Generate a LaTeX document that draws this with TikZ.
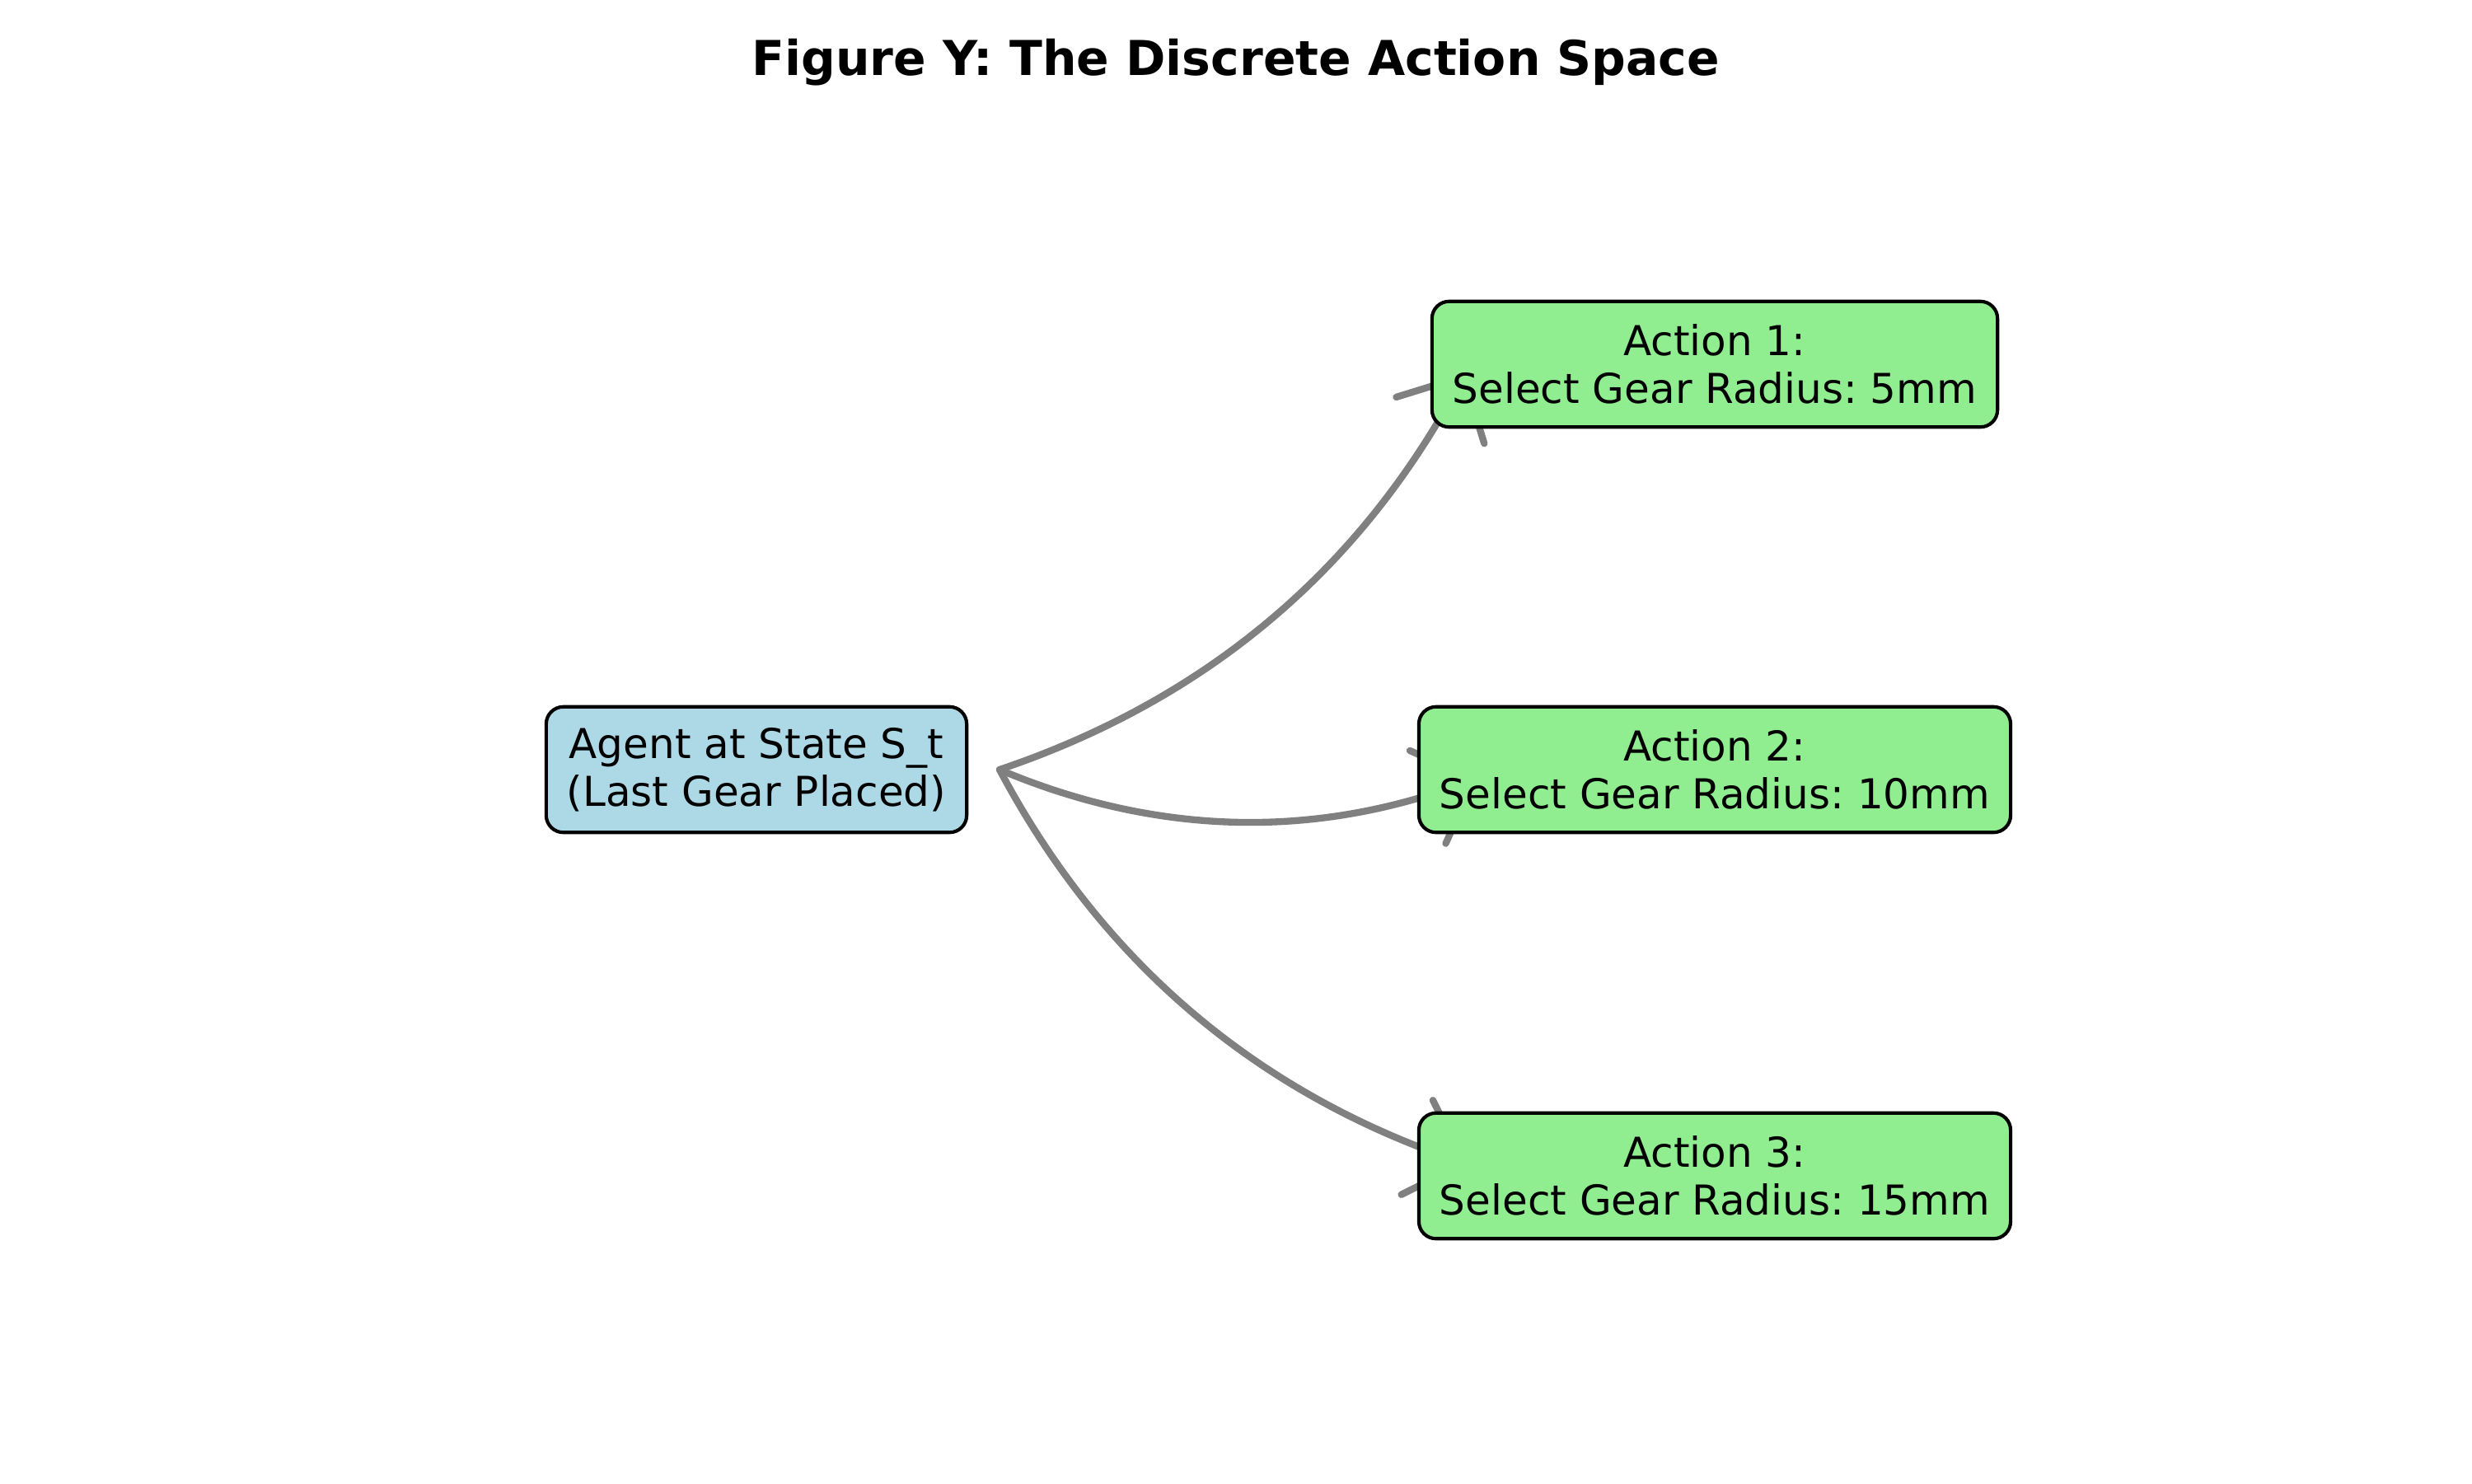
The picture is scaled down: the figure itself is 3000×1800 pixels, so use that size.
\documentclass[tikz,border=0pt]{standalone}
\usepackage{fontspec}
\setmainfont{DejaVu Sans}
\usetikzlibrary{arrows.meta}
\definecolor{boxblue}{HTML}{ADD8E6}
\definecolor{boxgreen}{HTML}{90EE90}
\definecolor{edgegray}{HTML}{808080}
\pgfdeclarelayer{background}
\pgfsetlayers{background,main}
\frenchspacing
\begin{document}
\begin{tikzpicture}[x=0.24pt,y=-0.24pt,
  box/.style={draw=black, line width=1pt, rounded corners=5pt, align=center,
    font=\fontsize{12}{14}\selectfont, inner xsep=6pt, inner ysep=6pt, minimum height=36.6pt},
  agentbox/.style={box, fill=boxblue},
  actionbox/.style={box, fill=boxgreen},
  flow/.style={draw=edgegray, line width=2pt, line cap=round,
    -{Straight Barb[length=14.5pt,width=29pt,round]}},
  titletext/.style={font=\fontsize{14}{17}\selectfont\bfseries, anchor=base, inner sep=0pt}
]
\useasboundingbox (0,0) rectangle (3000,1800);
\node[titletext] (title) at (1500,91) {Figure Y: The Discrete Action Space};
\node[agentbox] (agent) at (918,934) {Agent at State S\_t\\(Last Gear Placed)};
\node[actionbox] (a1) at (2081,442) {Action 1:\\Select Gear Radius: 5mm};
\node[actionbox] (a2) at (2081,934) {Action 2:\\Select Gear Radius: 10mm};
\node[actionbox] (a3) at (2081,1427) {Action 3:\\Select Gear Radius: 15mm};
\coordinate (src) at (1213,934);
\coordinate (t1) at (1778,453);
\coordinate (t2) at (1793,944);
\coordinate (t3) at (1781,1413);
\begin{pgfonlayer}{background}
  \fill[white] (0,0) rectangle (3000,1800);
  \draw[flow] (src) .. controls (1465,849) and (1653,690) .. (t1);
  \draw[flow] (src) .. controls (1405,1015) and (1599,1019) .. (t2);
  \draw[flow] (src) .. controls (1338,1169) and (1527,1328) .. (t3);
\end{pgfonlayer}
\end{tikzpicture}
\end{document}
